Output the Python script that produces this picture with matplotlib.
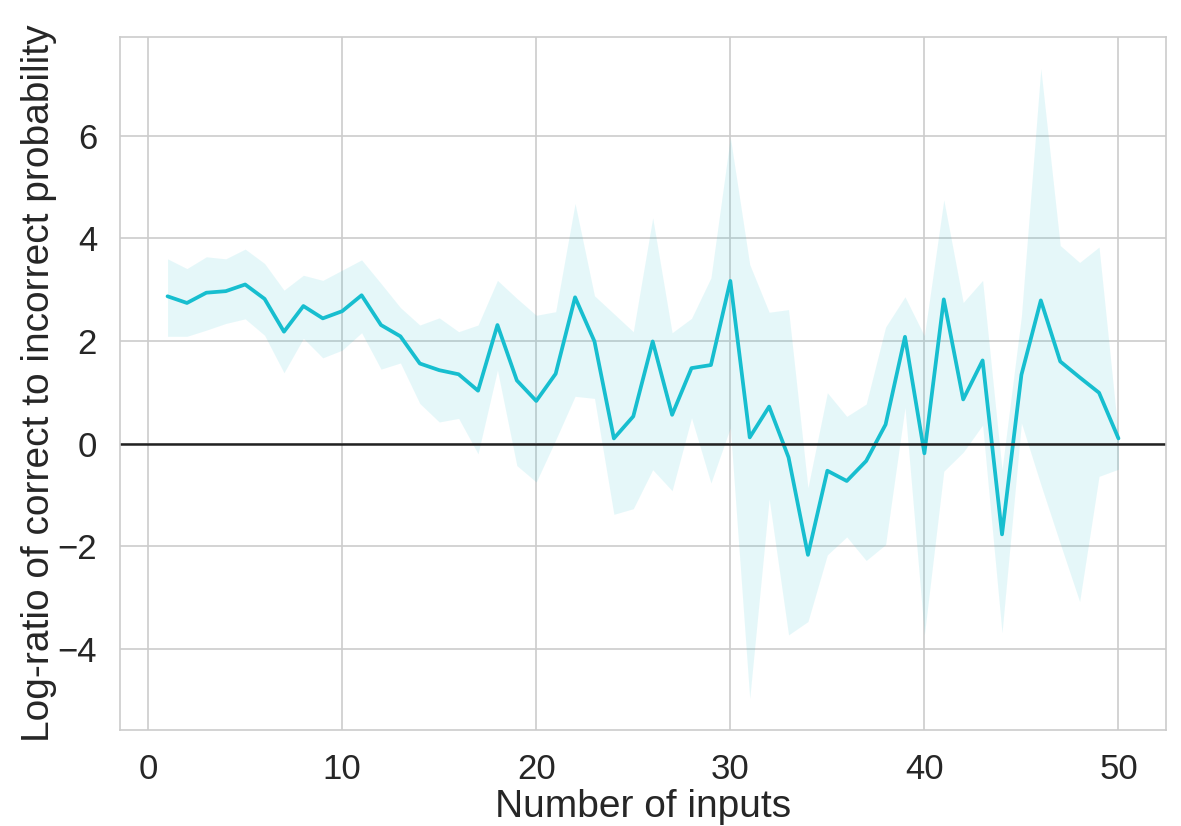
import matplotlib
import matplotlib.pyplot as plt
import numpy as np
import seaborn as sns

matplotlib.use("Agg")

n_inputs = np.arange(1, 51)

mean_log_ratio = [
    2.87, 2.74, 2.94, 2.97, 3.10, 2.82, 2.18, 2.68, 2.44, 2.58,
    2.89, 2.31, 2.09, 1.56, 1.43, 1.35, 1.03, 2.31, 1.23, 0.83,
    1.36, 2.85, 1.99, 0.10, 0.53, 1.99, 0.56, 1.47, 1.53, 3.17,
    0.12, 0.72, -0.27, -2.17, -0.53, -0.73, -0.34, 0.37, 2.08, -0.19,
    2.81, 0.86, 1.62, -1.77, 1.34, 2.79, 1.60, 1.29, 0.99, 0.10,
]

upper_ci = [
    3.60, 3.41, 3.64, 3.60, 3.79, 3.51, 2.99, 3.28, 3.18, 3.38,
    3.58, 3.12, 2.65, 2.31, 2.45, 2.18, 2.31, 3.18, 2.83, 2.50,
    2.57, 4.68, 2.88, 2.53, 2.18, 4.40, 2.16, 2.44, 3.23, 5.97,
    3.49, 2.56, 2.61, -0.86, 0.99, 0.53, 0.77, 2.27, 2.86, 2.10,
    4.75, 2.75, 3.18, -0.51, 2.49, 7.31, 3.86, 3.53, 3.83, 0.15,
]

lower_ci = [
    2.09, 2.09, 2.21, 2.34, 2.43, 2.11, 1.38, 2.05, 1.67, 1.82,
    2.16, 1.45, 1.57, 0.78, 0.42, 0.49, -0.20, 1.43, -0.43, -0.75,
    0.07, 0.92, 0.88, -1.38, -1.27, -0.51, -0.92, 0.50, -0.77, 0.31,
    -4.97, -1.08, -3.73, -3.47, -2.17, -1.82, -2.28, -1.97, 0.70, -3.73,
    -0.54, -0.17, 0.36, -3.69, 0.40, -0.80, -1.95, -3.08, -0.64, -0.50,
]

line_color = "#17becf"

sns.set_style("whitegrid")
plt.rcParams["font.family"] = ["Liberation Sans", "DejaVu Sans"]

fig, axis = plt.subplots(figsize=(11.81, 8.26), dpi=100)
fig.subplots_adjust(left=0.1016, right=0.9873, top=0.9552, bottom=0.1162)

axis.fill_between(n_inputs, lower_ci, upper_ci, color=line_color, alpha=0.11, linewidth=0)
axis.plot(n_inputs, mean_log_ratio, color=line_color, linewidth=2.7)
axis.axhline(0, color="#222222", linewidth=1.8)

axis.set_yticks([-4, -2, 0, 2, 4, 6])
axis.set_yticklabels(["\u22124", "\u22122", "0", "2", "4", "6"])
axis.tick_params(labelsize=25, colors="#262626", pad=13)
axis.grid(visible=True, color="#cccccc", linewidth=1.2)
for spine in axis.spines.values():
    spine.set_color("#cccccc")
    spine.set_linewidth(1.2)

axis.set_xlabel("Number of inputs", fontsize=28, color="#262626", labelpad=2)
axis.set_ylabel("Log-ratio of correct to incorrect probability", fontsize=28, color="#262626", labelpad=0)

plt.savefig("out.png")
plt.close()
